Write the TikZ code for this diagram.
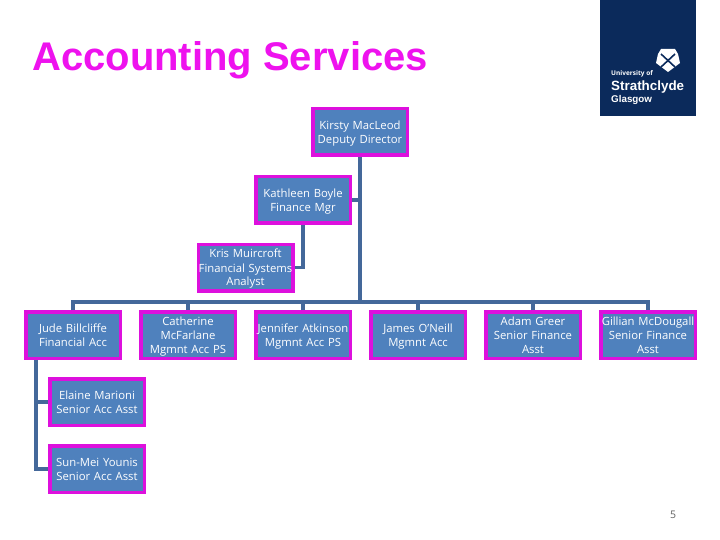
\documentclass[tikz,border=0pt]{standalone}
\usepackage{fontspec}
\setmainfont{Open Sans}
\newfontfamily\titlefont{Liberation Sans}
\usetikzlibrary{positioning}
\definecolor{boxfill}{HTML}{4F81BD}
\definecolor{boxedge}{HTML}{DD10DD}
\definecolor{titlepink}{HTML}{EE12EE}
\definecolor{linkblue}{HTML}{44689A}
\definecolor{logonavy}{HTML}{0B2A5B}
\definecolor{numgrey}{HTML}{5F5F5F}
\tikzset{
    person/.style={draw=boxedge, line width=3.5pt, fill=boxfill, text=white,
        minimum width=94.5pt, minimum height=46.5pt, inner sep=0pt, align=center,
        text width=94pt,
        execute at begin node={\rule{0pt}{12pt}},
        execute at end node={\rule[-3pt]{0pt}{3pt}},
        font=\fontsize{11.3}{14}\selectfont},
    link/.style={draw=linkblue, line width=3.4pt},
    logotext/.style={text=white, anchor=base west, inner sep=0pt}
}

\begin{document}
\begin{tikzpicture}[x=1pt,y=-1pt]
\useasboundingbox (0,0) rectangle (720,540);

\node[anchor=base west, inner sep=0pt, text=titlepink, font=\titlefont\bfseries\fontsize{40}{44}\selectfont] (title) at (32,71) {Accounting Services};

% logo
\fill[logonavy] (600,0) rectangle (696,116);
\node[logotext, font=\bfseries\fontsize{6.5}{7}\selectfont] (univ) at (611,76) {University of};
\node[logotext, font=\titlefont\bfseries\fontsize{13.4}{16}\selectfont] (strath) at (611,91) {Strathclyde};
\node[logotext, font=\titlefont\bfseries\fontsize{9.8}{12}\selectfont] (glasgow) at (611,103) {Glasgow};
\fill[white] (658,54) -- (661,49) -- (675,49) -- (678,54) -- (680,63) -- (668,72) -- (656,63) -- cycle;
\draw[logonavy, line width=1.6pt] (661,54) -- (675,67) (675,54) -- (661,67);

% people
\node[person] (kirsty) at (360,132) {Kirsty MacLeod\\Deputy Director};
\node[person] (kathleen) at (303,200) {Kathleen Boyle\\Finance Mgr};
\node[person] (kris) at (245.5,267.5) {Kris Muircroft\\Financial Systems\\Analyst};
\node[person] (jude) at (73,335) {Jude Billcliffe\\Financial Acc};
\node[person, right=17pt of jude] (catherine) {Catherine\\McFarlane\\Mgmnt Acc PS};
\node[person, right=17pt of catherine] (jennifer) {Jennifer Atkinson\\Mgmnt Acc PS};
\node[person, right=17pt of jennifer] (james) {James O'Neill\\Mgmnt Acc};
\node[person, right=17pt of james] (adam) {Adam Greer\\Senior Finance\\Asst};
\node[person, right=17pt of adam] (gillian) {Gillian McDougall\\Senior Finance\\Asst};
\node[person] (elaine) at (97,402) {Elaine Marioni\\Senior Acc Asst};
\node[person, below=17pt of elaine] (sunmei) {Sun-Mei Younis\\Senior Acc Asst};

\node[text=numgrey, font=\fontsize{10.5}{12}\selectfont] (pagenum) at (673,514.5) {5};

% links
\coordinate (bus) at (360,302);
\coordinate (trunk) at (36,360);
\draw[link] (kirsty.south) -- (bus);
\foreach \who in {jude,catherine,jennifer,james,adam,gillian}
    \draw[link] (\who.north) |- (bus);
\draw[link] (kathleen.east) -- (kathleen.east -| kirsty.south);
\draw[link] (kathleen.south) |- (kris.east);
\draw[link] (trunk) |- (elaine.west);
\draw[link] (trunk) |- (sunmei.west);
\end{tikzpicture}
\end{document}
